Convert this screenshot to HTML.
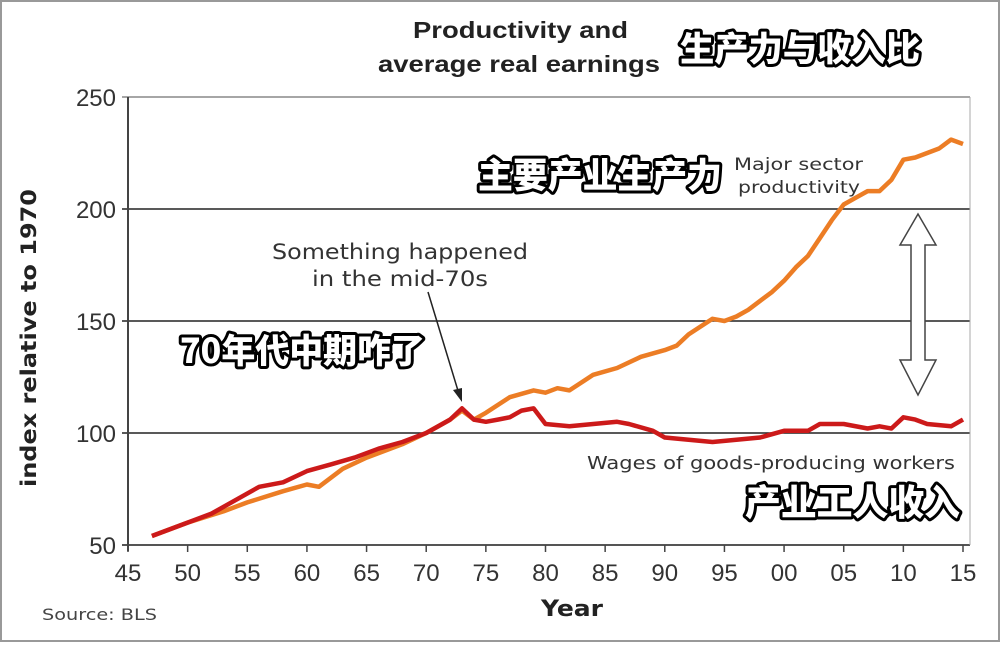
<!DOCTYPE html>
<html><head><meta charset="utf-8">
<style>
html,body{margin:0;padding:0;background:#fff;}
body{width:1000px;height:642px;overflow:hidden;}
svg text{font-family:"DejaVu Sans","Liberation Sans","Noto Sans CJK SC",sans-serif;}
.cn{font-family:"Noto Sans CJK SC","WenQuanYi Zen Hei",sans-serif;font-weight:900;fill:#fff;stroke:#000;stroke-width:6px;paint-order:stroke;stroke-linejoin:round;}
</style></head><body>
<svg id="chart" width="1000" height="642" viewBox="0 0 1000 642" xmlns="http://www.w3.org/2000/svg">
<rect x="1" y="1" width="998" height="640" fill="#fff" stroke="#999" stroke-width="2"/>
<text x="413" y="38" font-size="23" font-weight="bold" fill="#222" textLength="215" lengthAdjust="spacingAndGlyphs" style="font-family:'Liberation Sans',sans-serif">Productivity and</text>
<text x="378" y="72" font-size="23" font-weight="bold" fill="#222" textLength="282" lengthAdjust="spacingAndGlyphs" style="font-family:'Liberation Sans',sans-serif">average real earnings</text>
<text x="680" y="61" font-size="34" class="cn" textLength="240" lengthAdjust="spacingAndGlyphs">生产力与收入比</text>
<g id="grid"></g><g id="axes"></g><g id="series"></g>
<text x="734" y="170" font-size="17" fill="#333" textLength="129" lengthAdjust="spacingAndGlyphs">Major sector</text>
<text x="738" y="193" font-size="17" fill="#333" textLength="122" lengthAdjust="spacingAndGlyphs">productivity</text>
<text x="478" y="188" font-size="35" class="cn" textLength="244" lengthAdjust="spacingAndGlyphs">主要产业生产力</text>
<text x="272" y="259" font-size="21" fill="#333" textLength="256" lengthAdjust="spacingAndGlyphs">Something happened</text>
<text x="312" y="286" font-size="21" fill="#333" textLength="176" lengthAdjust="spacingAndGlyphs">in the mid-70s</text>
<text x="180" y="363" font-size="34" class="cn" textLength="245" lengthAdjust="spacingAndGlyphs">70年代中期咋了</text>
<g>
<line x1="428" y1="292" x2="459" y2="394" stroke="#222" stroke-width="1.5"/>
<polygon points="462,402 453,390 462,388" fill="#222"/>
</g>
<polygon points="918,214 936,245 925,245 925,360 936,360 918,395 900,360 911,360 911,245 900,245" fill="#fff" stroke="#444" stroke-width="1.5"/>
<text x="587" y="469" font-size="18" fill="#333" textLength="368" lengthAdjust="spacingAndGlyphs">Wages of goods-producing workers</text>
<text x="745" y="515" font-size="36" class="cn" textLength="215" lengthAdjust="spacingAndGlyphs">产业工人收入</text>
<text x="36" y="338" transform="rotate(-90 36 338)" text-anchor="middle" font-size="21" font-weight="bold" fill="#222" textLength="298" lengthAdjust="spacingAndGlyphs">index relative to 1970</text>
<text x="541" y="616" font-size="22" font-weight="bold" fill="#222" textLength="62" lengthAdjust="spacingAndGlyphs">Year</text>
<text x="42" y="620" font-size="16" fill="#444" textLength="115" lengthAdjust="spacingAndGlyphs">Source: BLS</text>
</svg>
<script>
const yTicks=[50,100,150,200,250];
const xTicks=[1945,1950,1955,1960,1965,1970,1975,1980,1985,1990,1995,2000,2005,2010,2015];
const xTickLabels=["45","50","55","60","65","70","75","80","85","90","95","00","05","10","15"];
const prodYears=[1947,1950,1953,1955,1958,1960,1961,1963,1965,1968,1970,1972,1973,1974,1975,1977,1979,1980,1981,1982,1984,1986,1988,1990,1991,1992,1994,1995,1996,1997,1998,1999,2000,2001,2002,2003,2004,2005,2006,2007,2008,2009,2010,2011,2012,2013,2014,2015];
const prodValues=[54,60,65,69,74,77,76,84,89,95,100,106,110,106,109,116,119,118,120,119,126,129,134,137,139,144,151,150,152,155,159,163,168,174,179,187,195,202,205,208,208,213,222,223,225,227,231,229];
const wageYears=[1947,1950,1952,1954,1956,1958,1960,1962,1964,1966,1968,1970,1972,1973,1974,1975,1976,1977,1978,1979,1980,1982,1984,1986,1987,1989,1990,1992,1994,1996,1998,2000,2002,2003,2005,2007,2008,2009,2010,2011,2012,2014,2015];
const wageValues=[54,60,64,70,76,78,83,86,89,93,96,100,106,111,106,105,106,107,110,111,104,103,104,105,104,101,98,97,96,97,98,101,101,104,104,102,103,102,107,106,104,103,106];
const X0=128,X1=970,Y0=97,Y1=545;
const xs=y=>X0+(y-1945)*(963-128)/70;
const ys=v=>545-(v-50)*(545-97)/200;
const NS="http://www.w3.org/2000/svg";
function mk(t,a,p){const e=document.createElementNS(NS,t);for(const k in a)e.setAttribute(k,a[k]);p.appendChild(e);return e;}
const grid=document.getElementById('grid'),axes=document.getElementById('axes'),ser=document.getElementById('series');
yTicks.forEach(v=>{
 const l=mk('line',{x1:X0-6,x2:X1,y1:ys(v),y2:ys(v),stroke:v===50?'#555':(v===250?'#888':'#222'),'stroke-width':v===50?2:1.5},grid);
 
 
 const t=mk('text',{x:X0-12,y:ys(v)+9,'text-anchor':'end','font-size':24,fill:'#333',style:"font-family:'Liberation Sans',sans-serif"},axes);
 t.textContent=v;
 
 
});
const ya=mk('line',{x1:X0,x2:X0,y1:Y0,y2:Y1+6,stroke:'#444','stroke-width':2},axes);


const rb=mk('line',{x1:X1,x2:X1,y1:Y0,y2:Y1,stroke:'#aaa','stroke-width':1},axes);


xTicks.forEach((y,i)=>{
 const l=mk('line',{x1:xs(y),x2:xs(y),y1:Y1,y2:Y1+7,stroke:'#444','stroke-width':1.5},axes);
 
 
 const t=mk('text',{x:xs(y),y:Y1+36,'text-anchor':'middle','font-size':24,fill:'#333',style:"font-family:'Liberation Sans',sans-serif"},axes);
 t.textContent=xTickLabels[i];
 
 
});
function line(yrs,vals,col,name){
 const d=yrs.map((y,i)=>(i?'L':'M')+xs(y).toFixed(1)+','+ys(vals[i]).toFixed(1)).join('');
 const p=mk('path',{d:d,fill:'none',stroke:col,'stroke-width':4.5,'stroke-linejoin':'round'},ser);
 
 
}
line(prodYears,prodValues,'#ec7d25','productivity-line');
line(wageYears,wageValues,'#cc1a1a','wages-line');
</script>
</body></html>
